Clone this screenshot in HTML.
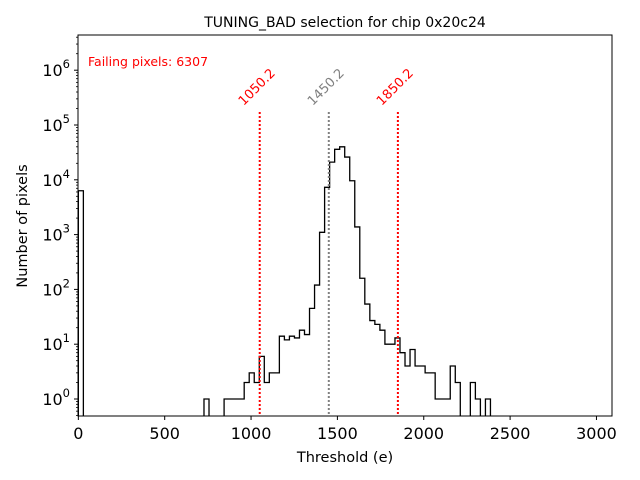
<!DOCTYPE html>
<html><head><meta charset="utf-8"><style>
body{margin:0;background:#fff}
svg{display:block;font-family:"DejaVu Sans","Liberation Sans",sans-serif}
</style></head><body>
<svg id="chart" width="640" height="480" viewBox="0 0 640 480">
<rect width="640" height="480" fill="#fff"/>
<text x="345" y="27" font-size="14" text-anchor="middle">TUNING_BAD selection for chip 0x20c24</text>
<text x="88" y="66" font-size="12.5" fill="red">Failing pixels: 6307</text>
<text x="345" y="462" font-size="14.5" text-anchor="middle">Threshold (e)</text>
<text x="27" y="226" font-size="14.5" text-anchor="middle" transform="rotate(-90 27 226)">Number of pixels</text>
<g id="marks"></g>
<rect x="78" y="35" width="534" height="381" fill="none" stroke="#000" stroke-width="1"/>
</svg>
<script>
const counts=[6307,0,0,0,0,0,0,0,0,0,0,0,0,0,0,0,0,0,0,0,0,0,0,0,0,1,0,0,0,1,1,1,1,2,3,2,6,2,3,3,14,12,14,13,18,15,45,120,1100,7300,21000,36000,40000,26000,9600,1380,160,54,27,23,18,10,10,13,7,4,8,4,4,3,3,1,1,1,4,2,0,0,2,1,0,1];
const binWidth=29.1;
const xTicks=[0,500,1000,1500,2000,2500,3000];
const yTickExps=[0,1,2,3,4,5,6];
const cutValues=[1050.2,1450.2,1850.2];
const cutColors=['red','gray','red'];

const NS='http://www.w3.org/2000/svg';
const g=document.getElementById('marks');
const X0=78,X1=612,Y0=35,Y1=416;
const xMin=-2,xMax=3090;
function xs(v){return X0+(v-xMin)/(xMax-xMin)*(X1-X0);}
function ys(v){if(v<=0)return Y1+2;return 399-54.8*Math.log10(v);}
function mk(tag,attrs){const e=document.createElementNS(NS,tag);for(const k in attrs)e.setAttribute(k,attrs[k]);g.appendChild(e);return e;}

let d='M'+xs(0)+','+(Y1+2);
for(let i=0;i<counts.length;i++){
  const y=ys(counts[i]);
  d+=' L'+xs(i*binWidth)+','+y+' L'+xs((i+1)*binWidth)+','+y;
}
d+=' L'+xs(counts.length*binWidth)+','+(Y1+2);
const clip=document.createElementNS(NS,'clipPath');clip.setAttribute('id','pc');
const cr=document.createElementNS(NS,'rect');cr.setAttribute('x',X0);cr.setAttribute('y',Y0);cr.setAttribute('width',X1-X0);cr.setAttribute('height',Y1-Y0);
clip.appendChild(cr);g.appendChild(clip);
const hp=mk('path',{d:d,fill:'none',stroke:'#000','stroke-width':1.3,'clip-path':'url(#pc)'});



cutValues.forEach((v,i)=>{
  const x=xs(v);
  const l=mk('line',{x1:x,x2:x,y1:112,y2:Y1,stroke:cutColors[i],'stroke-width':2,'stroke-dasharray':'2,2'});
  
  
  const t=mk('text',{x:x,y:90,'font-size':13,fill:cutColors[i],'text-anchor':'middle',transform:'rotate(-45 '+x+' 90)'});
  t.textContent=v.toFixed(1);
  
  
});

xTicks.forEach(v=>{
  const x=xs(v);
  mk('line',{x1:x,x2:x,y1:Y1,y2:Y1+4,stroke:'#000','stroke-width':1});
  const t=mk('text',{x:x,y:Y1+23,'font-size':16,'text-anchor':'middle'});
  t.textContent=v;
  
  
});

yTickExps.forEach(e=>{
  const y=ys(Math.pow(10,e));
  mk('line',{x1:X0-4,x2:X0,y1:y,y2:y,stroke:'#000','stroke-width':1});
  const t=mk('text',{x:X0-8,y:y+6,'font-size':16,'text-anchor':'end'});
  const base=document.createElementNS(NS,'tspan');base.textContent='10';
  const sup=document.createElementNS(NS,'tspan');sup.setAttribute('dy','-8');sup.setAttribute('font-size','11.5');sup.textContent=e;
  t.appendChild(base);t.appendChild(sup);
  
  
});
for(let e=-1;e<=6;e++){
  for(let m=2;m<=9;m++){
    const y=ys(m*Math.pow(10,e));
    if(y<Y0||y>Y1)continue;
    mk('line',{x1:X0-2,x2:X0,y1:y,y2:y,stroke:'#000','stroke-width':0.8});
  }
}
</script>
</body></html>
